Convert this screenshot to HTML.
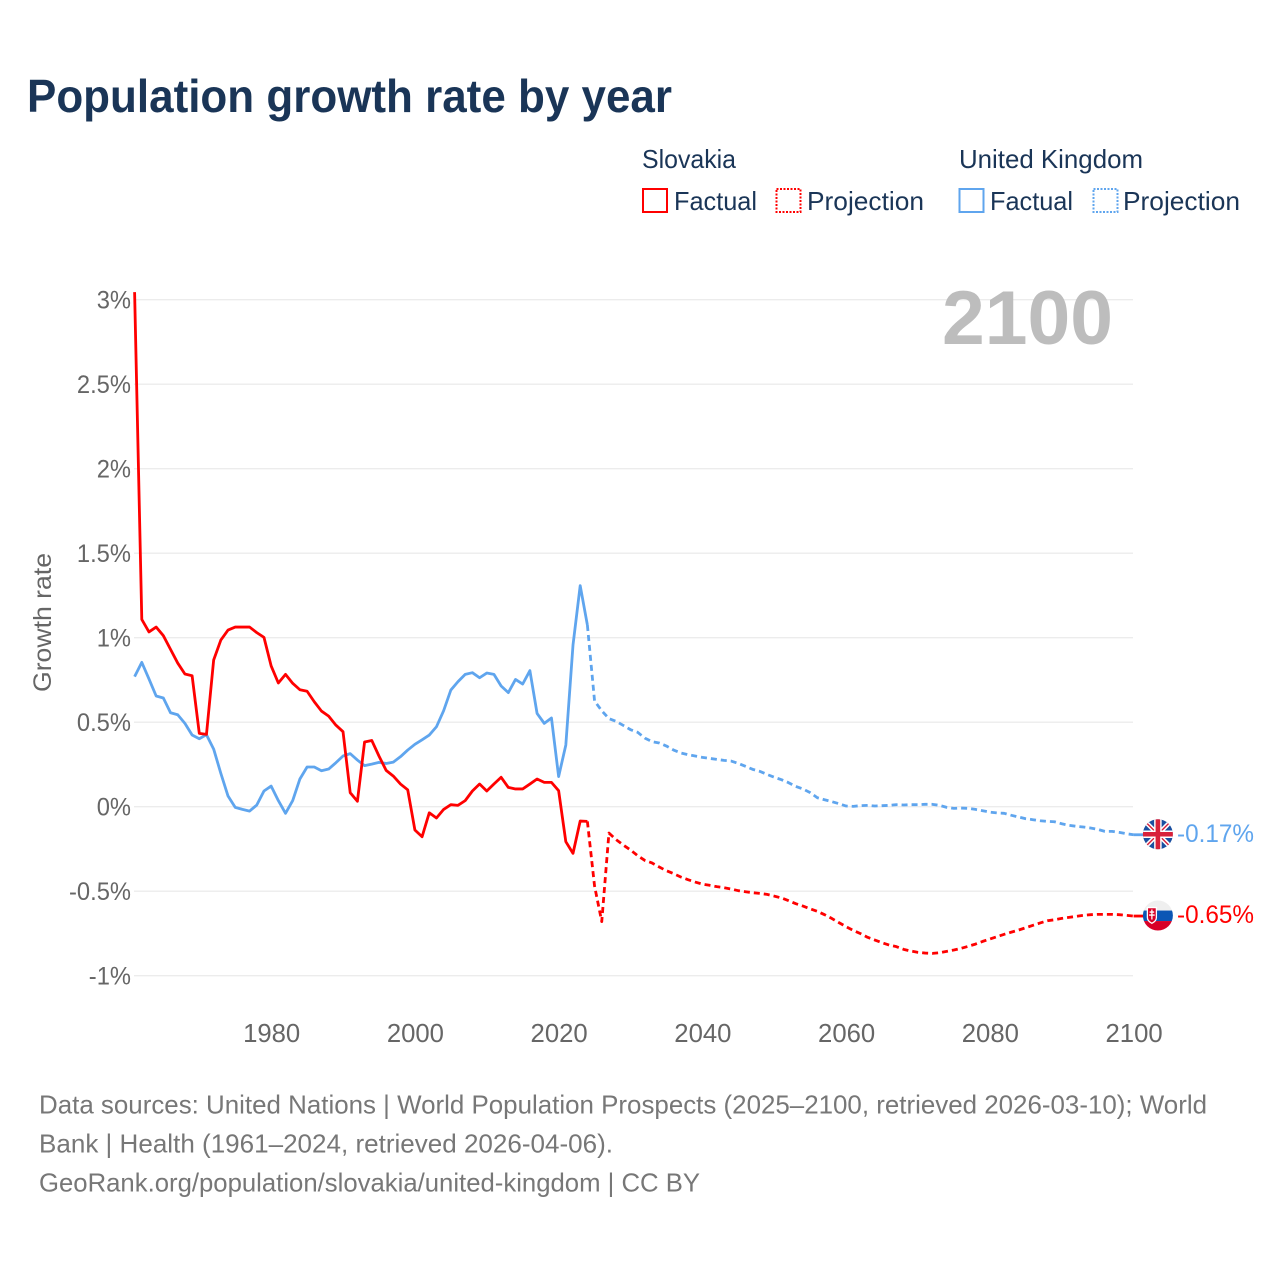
<!DOCTYPE html>
<html lang="en">
<head>
<meta charset="utf-8">
<title>Population growth rate by year</title>
<style>
html,body{margin:0;padding:0;background:#fff;width:1280px;height:1280px;overflow:hidden}
svg{display:block;font-family:"Liberation Sans",sans-serif}
</style>
</head>
<body>
<svg id="chart" width="1280" height="1280" viewBox="0 0 1280 1280" xmlns="http://www.w3.org/2000/svg">
  <defs>
    <clipPath id="flag-clip"><circle cx="0" cy="0" r="15"/></clipPath>
  </defs>
  <rect width="1280" height="1280" fill="#fff"/>
  <text x="27" y="112" font-size="46" font-weight="700" fill="#1a3557" textLength="645" lengthAdjust="spacingAndGlyphs">Population growth rate by year</text>

  <g font-size="26" fill="#1a3557">
    <text x="642" y="168" textLength="94" lengthAdjust="spacingAndGlyphs">Slovakia</text>
    <text x="959" y="168" textLength="184" lengthAdjust="spacingAndGlyphs">United Kingdom</text>
    <g>
      <rect x="643" y="189" width="24" height="23" fill="none" stroke="#ff0000" stroke-width="2"/>
      <text x="674" y="210" textLength="83" lengthAdjust="spacingAndGlyphs">Factual</text>
    </g>
    <g>
      <rect x="776.5" y="189" width="24" height="23" fill="none" stroke="#ff0000" stroke-width="2" stroke-dasharray="2,1.5"/>
      <text x="807" y="210" textLength="117" lengthAdjust="spacingAndGlyphs">Projection</text>
    </g>
    <g>
      <rect x="959.5" y="189" width="24" height="23" fill="none" stroke="#5fa5ee" stroke-width="2"/>
      <text x="990" y="210" textLength="83" lengthAdjust="spacingAndGlyphs">Factual</text>
    </g>
    <g>
      <rect x="1093.5" y="189" width="24" height="23" fill="none" stroke="#5fa5ee" stroke-width="2" stroke-dasharray="2,1.5"/>
      <text x="1123" y="210" textLength="117" lengthAdjust="spacingAndGlyphs">Projection</text>
    </g>
  </g>

  <g id="gridlines"></g>
  <text x="942" y="344" font-size="76" font-weight="700" fill="#bdbdbd" textLength="171" lengthAdjust="spacingAndGlyphs">2100</text>
  <g id="y-ticks" font-size="25" fill="#666" text-anchor="end"></g>
  <g id="x-ticks" font-size="25.7" fill="#666" text-anchor="middle"></g>
  <text transform="translate(51,692) rotate(-90)" font-size="25" fill="#666" textLength="139" lengthAdjust="spacingAndGlyphs">Growth rate</text>
  <g id="series" fill="none" stroke-width="2.8" stroke-linejoin="round"></g>

  <g id="flag-uk">
    <g clip-path="url(#flag-clip)">
      <rect x="-16" y="-16" width="32" height="32" fill="#1a4fa0"/>
      <path d="M-16-16L16 16M16-16L-16 16" stroke="#fff" stroke-width="4.5"/>
      <path d="M-16-16L16 16M16-16L-16 16" stroke="#d8203a" stroke-width="1.4"/>
      <path d="M0-16V16M-16 0H16" stroke="#fff" stroke-width="7.5"/>
      <path d="M0-16V16M-16 0H16" stroke="#d8203a" stroke-width="4.6"/>
    </g>
  </g>
  <g id="flag-sk">
    <g clip-path="url(#flag-clip)">
      <rect x="-16" y="-16" width="32" height="11" fill="#efefef"/>
      <rect x="-16" y="-5" width="32" height="10.5" fill="#0b56b5"/>
      <rect x="-16" y="5.5" width="32" height="11" fill="#d80027"/>
      <path d="M-10.5-8H-1.5V2C-1.5 5-4 6.8-6 7.8C-8 6.8-10.5 5-10.5 2Z" fill="#d80027" stroke="#fff" stroke-width="1.3"/>
      <path d="M-6-6V4M-8.3-3.5H-3.7M-8.8-0.5H-3.2" stroke="#fff" stroke-width="1.3"/>
    </g>
  </g>
  <text id="value-uk" x="1177" font-size="25" fill="#5fa5ee" textLength="77" lengthAdjust="spacingAndGlyphs">-0.17%</text>
  <text id="value-sk" x="1177" font-size="25" fill="#ff0000" textLength="77" lengthAdjust="spacingAndGlyphs">-0.65%</text>

  <g font-size="26" fill="#777">
    <text x="39" y="1113.5" textLength="1168" lengthAdjust="spacingAndGlyphs">Data sources: United Nations | World Population Prospects (2025–2100, retrieved 2026-03-10); World</text>
    <text x="39" y="1152.5" textLength="574" lengthAdjust="spacingAndGlyphs">Bank | Health (1961–2024, retrieved 2026-04-06).</text>
    <text x="39" y="1191.5" textLength="661" lengthAdjust="spacingAndGlyphs">GeoRank.org/population/slovakia/united-kingdom | CC BY</text>
  </g>
</svg>
<script>
const factualYears = [1961,1962,1963,1964,1965,1966,1967,1968,1969,1970,1971,1972,1973,1974,1975,1976,1977,1978,1979,1980,1981,1982,1983,1984,1985,1986,1987,1988,1989,1990,1991,1992,1993,1994,1995,1996,1997,1998,1999,2000,2001,2002,2003,2004,2005,2006,2007,2008,2009,2010,2011,2012,2013,2014,2015,2016,2017,2018,2019,2020,2021,2022,2023,2024];
const projectionYears = [2024,2025,2026,2027,2028,2029,2030,2031,2032,2033,2034,2035,2036,2037,2038,2039,2040,2041,2042,2043,2044,2045,2046,2047,2048,2049,2050,2051,2052,2053,2054,2055,2056,2057,2058,2059,2060,2061,2062,2063,2064,2065,2066,2067,2068,2069,2070,2071,2072,2073,2074,2075,2076,2077,2078,2079,2080,2081,2082,2083,2084,2085,2086,2087,2088,2089,2090,2091,2092,2093,2094,2095,2096,2097,2098,2099,2100];
const slovakiaFactual = [3.045,1.108,1.034,1.063,1.012,0.931,0.85,0.785,0.775,0.434,0.428,0.868,0.986,1.045,1.063,1.063,1.063,1.03,1.002,0.833,0.732,0.783,0.73,0.692,0.683,0.621,0.566,0.536,0.483,0.444,0.083,0.032,0.383,0.392,0.3,0.215,0.181,0.134,0.1,-0.138,-0.178,-0.036,-0.067,-0.016,0.012,0.008,0.036,0.093,0.134,0.093,0.134,0.174,0.114,0.105,0.105,0.134,0.164,0.144,0.144,0.095,-0.207,-0.276,-0.085,-0.087];
const slovakiaProjection = [-0.087,-0.47,-0.68,-0.156,-0.195,-0.227,-0.256,-0.29,-0.318,-0.333,-0.357,-0.379,-0.396,-0.416,-0.432,-0.446,-0.458,-0.465,-0.473,-0.479,-0.487,-0.497,-0.503,-0.509,-0.513,-0.519,-0.529,-0.54,-0.556,-0.574,-0.588,-0.604,-0.619,-0.639,-0.661,-0.686,-0.71,-0.732,-0.751,-0.773,-0.789,-0.805,-0.819,-0.828,-0.844,-0.854,-0.862,-0.866,-0.868,-0.864,-0.856,-0.848,-0.838,-0.826,-0.813,-0.797,-0.783,-0.769,-0.755,-0.742,-0.73,-0.716,-0.702,-0.688,-0.675,-0.669,-0.661,-0.655,-0.649,-0.643,-0.639,-0.637,-0.637,-0.637,-0.639,-0.643,-0.647];
const ukFactual = [0.77,0.854,0.756,0.655,0.643,0.556,0.544,0.493,0.424,0.402,0.426,0.341,0.197,0.063,-0.004,-0.016,-0.026,0.01,0.093,0.122,0.036,-0.039,0.036,0.164,0.235,0.235,0.213,0.223,0.26,0.3,0.314,0.276,0.243,0.252,0.262,0.256,0.264,0.296,0.335,0.369,0.396,0.424,0.473,0.568,0.69,0.74,0.783,0.793,0.763,0.791,0.783,0.714,0.675,0.753,0.726,0.805,0.552,0.493,0.525,0.178,0.365,0.957,1.308,1.075];
const ukProjection = [1.075,0.625,0.568,0.521,0.505,0.481,0.456,0.44,0.406,0.385,0.377,0.359,0.335,0.318,0.308,0.3,0.292,0.286,0.28,0.274,0.27,0.256,0.239,0.221,0.209,0.191,0.174,0.16,0.142,0.12,0.105,0.083,0.053,0.041,0.03,0.018,0.004,0.002,0.006,0.008,0.004,0.006,0.008,0.012,0.01,0.012,0.012,0.014,0.014,0.008,-0.004,-0.01,-0.008,-0.01,-0.016,-0.024,-0.032,-0.037,-0.039,-0.051,-0.061,-0.071,-0.077,-0.083,-0.087,-0.089,-0.101,-0.11,-0.116,-0.12,-0.126,-0.134,-0.146,-0.146,-0.152,-0.16,-0.166];
const yTickValues = [3,2.5,2,1.5,1,0.5,0,-0.5,-1];
const yTickLabels = ['3%','2.5%','2%','1.5%','1%','0.5%','0%','-0.5%','-1%'];
const xTickValues = [1980,2000,2020,2040,2060,2080,2100];

const SVG_NS = 'http://www.w3.org/2000/svg';
function xScale(year){ return 134.6 + (year - 1961) * 7.187; }
function yScale(value){ return 806.7 - value * 169; }
function make(tag, attrs, parent){
  const node = document.createElementNS(SVG_NS, tag);
  for (const k in attrs) node.setAttribute(k, attrs[k]);
  parent.appendChild(node);
  return node;
}
function pathFrom(years, values){
  return years.map((yr, i) => (i ? 'L' : 'M') + xScale(yr).toFixed(2) + ' ' + yScale(values[i]).toFixed(2)).join('');
}

const gridGroup = document.getElementById('gridlines');
const yTickGroup = document.getElementById('y-ticks');
yTickValues.forEach((v, i) => {
  const line = make('line', {x1: 134, x2: 1133, y1: yScale(v), y2: yScale(v), stroke: '#ececec', 'stroke-width': 1.3}, gridGroup);
  
  
  const label = make('text', {x: 131, y: yScale(v) + 8.6}, yTickGroup);
  
  
  label.textContent = yTickLabels[i];
  label.setAttribute('textLength', (label.getComputedTextLength() * 0.95).toFixed(1));
  label.setAttribute('lengthAdjust', 'spacingAndGlyphs');
});

const xTickGroup = document.getElementById('x-ticks');
xTickValues.forEach((yr) => {
  const label = make('text', {x: xScale(yr) + 0.5, y: 1042}, xTickGroup);
  
  
  label.textContent = String(yr);
});

const seriesGroup = document.getElementById('series');
const RED = '#ff0000';
const BLUE = '#5fa5ee';

const ukFactualLine = make('path', {d: pathFrom(factualYears, ukFactual), stroke: BLUE}, seriesGroup);



const ukProjectionLine = make('path', {d: pathFrom(projectionYears, ukProjection), stroke: BLUE, 'stroke-dasharray': '6,4'}, seriesGroup);



const skFactualLine = make('path', {d: pathFrom(factualYears, slovakiaFactual), stroke: RED}, seriesGroup);



const skProjectionLine = make('path', {d: pathFrom(projectionYears, slovakiaProjection), stroke: RED, 'stroke-dasharray': '6,4'}, seriesGroup);



const lastX = xScale(projectionYears[projectionYears.length - 1]);
const ukLastY = yScale(ukProjection[ukProjection.length - 1]);
const skLastY = yScale(slovakiaProjection[slovakiaProjection.length - 1]);

const ukConnector = make('line', {x1: lastX, x2: lastX + 12, y1: ukLastY, y2: ukLastY, stroke: BLUE}, seriesGroup);


const skConnector = make('line', {x1: lastX, x2: lastX + 12, y1: skLastY, y2: skLastY, stroke: RED}, seriesGroup);



document.getElementById('flag-uk').setAttribute('transform', 'translate(' + (lastX + 24.3) + ',' + (ukLastY - 0.5) + ')');
document.getElementById('flag-sk').setAttribute('transform', 'translate(' + (lastX + 24.3) + ',' + (skLastY - 0.5) + ')');
document.getElementById('value-uk').setAttribute('y', ukLastY + 7);
document.getElementById('value-sk').setAttribute('y', skLastY + 7);
</script>
</body>
</html>
